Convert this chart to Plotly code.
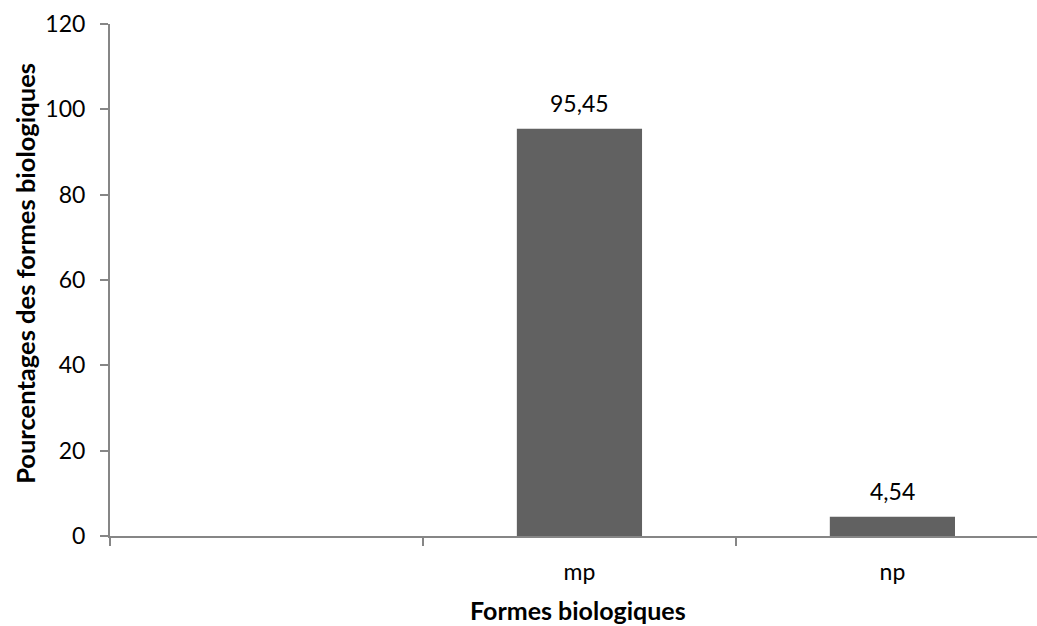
import plotly.graph_objects as go

# Biological forms and their percentages
categories = [" ", "mp", "np"]
percentages = [None, 95.45, 4.54]

y_ticks = [0, 20, 40, 60, 80, 100, 120]

FONT = "Lato"
AXIS_COLOR = "#868686"
BAR_COLOR = "#616161"
TICK_SIZE = 23
TITLE_SIZE = 25

fig = go.Figure(
    go.Bar(
        x=categories,
        y=percentages,
        marker=dict(color=BAR_COLOR, line=dict(width=0)),
        width=0.4,
        cliponaxis=False,
    )
)

# Value labels above each bar, using a comma as decimal mark
for cat, val in zip(categories, percentages):
    if val is None:
        continue
    fig.add_annotation(
        x=cat, y=val,
        text=f"{val:.2f}".replace(".", ","),
        showarrow=False,
        yanchor="middle",
        yshift=26,
        font=dict(family=FONT, size=TICK_SIZE, color="#000000"),
    )

fig.update_layout(
    width=1037,
    height=626,
    margin=dict(l=110, r=0, t=24, b=90),
    paper_bgcolor="white",
    plot_bgcolor="white",
    showlegend=False,
    font=dict(family=FONT, size=TICK_SIZE, color="#000000"),
)

fig.update_xaxes(
    type="category",
    range=[-0.5, 2.462],
    tickson="boundaries",
    ticks="outside",
    ticklen=8,
    tickwidth=1.5,
    tickcolor=AXIS_COLOR,
    showline=True,
    linecolor=AXIS_COLOR,
    linewidth=2,
    showgrid=False,
    zeroline=False,
    ticklabelstandoff=14,
    tickfont=dict(family=FONT, size=TICK_SIZE),
)

fig.update_yaxes(
    range=[0, 120],
    tickvals=y_ticks,
    ticks="outside",
    ticklen=8,
    tickwidth=1.5,
    tickcolor=AXIS_COLOR,
    showline=True,
    linecolor=AXIS_COLOR,
    linewidth=2,
    showgrid=False,
    zeroline=False,
    ticklabelstandoff=10,
    tickfont=dict(family=FONT, size=TICK_SIZE),
)

fig.add_annotation(
    text="<b>Formes biologiques</b>",
    xref="paper", yref="paper",
    x=0.505, y=0, yshift=-74,
    showarrow=False,
    yanchor="middle",
    font=dict(family=FONT, size=TITLE_SIZE),
)
fig.add_annotation(
    text="<b>Pourcentages des formes biologiques</b>",
    xref="paper", yref="paper",
    x=0, xshift=-85, y=0.512,
    textangle=-90,
    showarrow=False,
    xanchor="center",
    font=dict(family=FONT, size=25.5),
)

fig.write_html("out.html")
